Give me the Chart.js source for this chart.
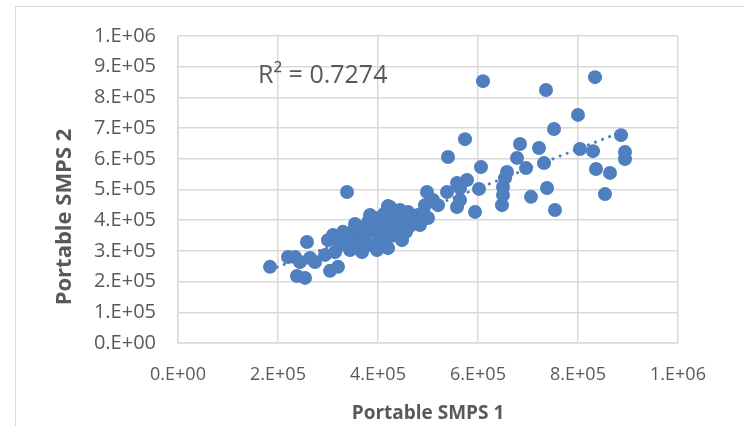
<!DOCTYPE html>
<html>
<head>
<meta charset="utf-8">
<script src="https://cdn.jsdelivr.net/npm/chart.js@4"></script>
<style>
  html, body { margin: 0; padding: 0; background: #fff; }
  #wrap { width: 744px; height: 426px; }
</style>
</head>
<body>
<div id="wrap"><canvas id="grafico"></canvas></div>
<script>
// values (particles / cm3)
const smps1 = [184000, 234000, 238000, 254000, 258000, 244000, 264000, 274000, 300000, 304000,
  320000, 294000, 314000, 324000, 338000, 334000, 344000, 348000, 354000, 360000,
  364000, 368000, 374000, 380000, 384000, 388000, 394000, 398000, 400000, 404000,
  408000, 412000, 416000, 420000, 420000, 424000, 428000, 434000, 440000, 444000,
  448000, 452000, 456000, 460000, 464000, 468000, 474000, 480000, 484000, 492000,
  500000, 498000, 494000, 490000, 538000, 564000, 594000, 558000, 558000, 578000,
  564000, 540000, 606000, 602000, 574000, 610000, 834000, 736000, 800000, 752000,
  886000, 684000, 722000, 804000, 830000, 894000, 894000, 678000, 732000, 696000,
  836000, 864000, 658000, 654000, 650000, 650000, 648000, 738000, 706000, 854000,
  754000, 510000, 520000, 384000, 370000, 424000, 220000, 310000, 354000, 330000];
const smps2 = [248000, 280000, 218000, 212000, 329000, 264000, 277000, 264000, 335000, 235000,
  248000, 287000, 296000, 319000, 492000, 342000, 303000, 362000, 322000, 375000,
  335000, 296000, 355000, 394000, 319000, 368000, 407000, 303000, 349000, 381000,
  329000, 420000, 362000, 446000, 309000, 394000, 349000, 417000, 375000, 433000,
  335000, 401000, 362000, 427000, 381000, 414000, 394000, 417000, 384000, 420000,
  407000, 492000, 449000, 423000, 492000, 466000, 427000, 443000, 521000, 531000,
  505000, 606000, 573000, 502000, 664000, 853000, 866000, 824000, 743000, 697000,
  677000, 648000, 635000, 632000, 625000, 622000, 599000, 603000, 586000, 570000,
  567000, 554000, 557000, 537000, 508000, 482000, 449000, 505000, 476000, 485000,
  433000, 466000, 449000, 417000, 313000, 443000, 280000, 352000, 388000, 362000];

// linear trendline ends, as Excel draws it
const trendX = [184000, 894000];
const trendY = [238000, 692000];
const r2Text = 'R² = 0.7274';
const yTitle = 'Portable SMPS 2';
const xTitle = 'Portable SMPS 1';

const axisMax = 1000000;
const xStep = 200000;
const yStep = 100000;

const gris = '#595959';
const azul = '#4f7fbf';
const fuente = "'Open Sans', 'Liberation Sans', sans-serif";

function sci(v) {
  if (v === 0) return '0.E+00';
  const e = Math.floor(Math.log10(v) + 1e-9);
  const m = Math.round(v / Math.pow(10, e));
  return m + '.E+' + String(e).padStart(2, '0');
}

const puntos = smps1.map((x, i) => ({ x: x, y: smps2[i] }));
const tendencia = trendX.map((x, i) => ({ x: x, y: trendY[i] }));

const extras = {
  id: 'extras',
  beforeDraw(chart) {
    const ctx = chart.ctx;
    ctx.save();
    ctx.fillStyle = '#fff';
    ctx.fillRect(0, 0, chart.width, chart.height);
    ctx.strokeStyle = '#d9d9d9';
    ctx.lineWidth = 1;
    ctx.beginPath();
    ctx.moveTo(15.5, chart.height);
    ctx.lineTo(15.5, 6.5);
    ctx.lineTo(chart.width, 6.5);
    ctx.stroke();
    ctx.restore();
  },
  afterDatasetsDraw(chart) {
    const ctx = chart.ctx;
    const xs = chart.scales.x, ys = chart.scales.y;
    ctx.save();
    ctx.font = '25px ' + fuente;
    ctx.fillStyle = gris;
    ctx.textAlign = 'left';
    ctx.textBaseline = 'middle';
    ctx.fillText(r2Text, xs.getPixelForValue(160000), ys.getPixelForValue(870000));
    // y axis title, Excel puts it a little below the middle
    ctx.font = 'bold 22px ' + fuente;
    ctx.textAlign = 'center';
    ctx.translate(65, 217);
    ctx.rotate(-Math.PI / 2);
    ctx.fillText(yTitle, 0, 0);
    ctx.restore();
  }
};

new Chart(document.getElementById('grafico'), {
  type: 'scatter',
  data: {
    datasets: [{
      label: 'Tendencia',
      data: tendencia,
      showLine: true,
      borderColor: azul,
      borderWidth: 3,
      borderDash: [0.1, 7.5],
      borderCapStyle: 'round',
      pointRadius: 0,
      order: 0
    }, {
      label: 'SMPS',
      data: puntos,
      backgroundColor: azul,
      borderColor: azul,
      borderWidth: 0,
      pointRadius: 7,
      order: 1
    }]
  },
  options: {
    responsive: true,
    maintainAspectRatio: false,
    animation: false,
    events: [],
    layout: { padding: { left: 40, top: 36, right: 66, bottom: 0 } },
    plugins: {
      legend: { display: false },
      tooltip: { enabled: false }
    },
    scales: {
      x: {
        type: 'linear',
        min: 0,
        max: axisMax,
        afterFit: (s) => { s.height = 83; },
        ticks: {
          stepSize: xStep,
          color: gris,
          padding: 21,
          font: { family: fuente, size: 18 },
          callback: (v) => sci(v)
        },
        grid: { color: '#d9d9d9', lineWidth: 1.5, drawTicks: false },
        border: { color: '#d9d9d9', width: 1.5 },
        title: {
          display: true,
          text: xTitle,
          color: gris,
          font: { family: fuente, size: 19, weight: 'bold' },
          padding: { top: 0, bottom: 1 }
        }
      },
      y: {
        type: 'linear',
        min: 0,
        max: axisMax,
        afterFit: (s) => { s.width = 138; },
        ticks: {
          stepSize: yStep,
          color: gris,
          padding: 22,
          font: { family: fuente, size: 20 },
          callback: (v) => sci(v)
        },
        grid: { color: '#d9d9d9', lineWidth: 1.5, drawTicks: false },
        border: { color: '#d9d9d9', width: 1.5 }
      }
    }
  },
  plugins: [extras]
});
</script>
</body>
</html>
